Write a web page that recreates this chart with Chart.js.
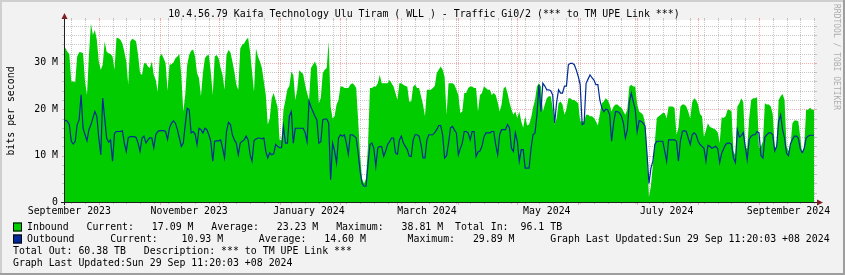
<!DOCTYPE html>
<html>
<head>
<meta charset="utf-8">
<script src="https://cdn.jsdelivr.net/npm/chart.js@4.4.1/dist/chart.umd.min.js"></script>
<style>
  html, body { margin: 0; padding: 0; background: #f2f2f2; }
  canvas { display: block; }
</style>
</head>
<body>
<canvas id="graph" width="845" height="275"></canvas>
<script>
'use strict';

// day numbers are counted from 1 Sep 2023; one sample per day, in Mbit/s
const firstDay = 12;
const viewStart = 12.3;
const viewEnd = 394.5;

const inbound = [
  33.9, 33.2, 32.4, 31.9, 26.0, 26.0, 25.8, 31.4, 32.3, 32.3,
  32.1, 26.0, 23.1, 31.7, 38.5, 36.0, 37.1, 35.0, 30.3, 28.5,
  29.6, 34.6, 32.4, 32.1, 31.9, 31.4, 28.5, 35.4, 35.3, 35.0,
  34.2, 32.4, 30.3, 25.3, 34.6, 35.2, 35.0, 34.6, 31.7, 27.8,
  27.4, 29.9, 29.9, 29.2, 28.9, 30.3, 27.4, 26.3, 23.8, 31.4,
  31.9, 31.0, 29.9, 24.0, 29.6, 29.7, 30.1, 31.0, 31.4, 31.9,
  27.4, 19.5, 23.1, 29.6, 31.7, 32.6, 32.9, 31.4, 27.8, 26.7,
  22.8, 27.8, 31.0, 31.6, 31.7, 28.1, 23.1, 31.4, 31.7, 31.0,
  28.9, 27.4, 24.2, 31.7, 32.8, 32.3, 30.3, 28.1, 25.3, 24.2,
  33.1, 33.9, 34.2, 35.0, 35.4, 32.4, 28.1, 23.8, 33.1, 31.4,
  30.3, 28.9, 26.0, 23.1, 16.7, 18.0, 22.4, 23.5, 22.0, 20.5,
  13.5, 13.2, 19.9, 22.0, 24.3, 25.0, 28.1, 27.4, 22.0, 24.2,
  28.4, 28.0, 27.6, 25.3, 23.5, 22.0, 28.9, 29.6, 30.3, 29.2,
  21.3, 22.5, 27.8, 28.5, 28.9, 34.6, 20.6, 18.0, 18.5, 21.0,
  22.0, 24.9, 24.9, 24.6, 24.6, 24.6, 25.3, 25.6, 25.3, 24.6,
  17.7, 10.0, 5.0, 4.0, 5.0, 12.0, 24.6, 24.6, 24.9, 24.9,
  25.6, 27.4, 25.6, 25.6, 25.6, 25.6, 26.3, 25.6, 24.9, 23.5,
  22.0, 25.6, 25.6, 25.3, 25.0, 24.9, 21.7, 21.7, 24.9, 25.3,
  24.6, 24.6, 22.8, 21.0, 18.5, 24.2, 24.2, 24.2, 24.6, 25.0,
  27.8, 28.5, 29.2, 28.5, 27.0, 18.8, 25.6, 25.6, 25.6, 25.3,
  24.2, 23.1, 19.2, 19.5, 23.5, 23.5, 24.6, 24.9, 24.9, 24.6,
  24.6, 19.5, 23.1, 23.5, 24.9, 24.6, 24.2, 24.2,
  23.1, 23.5, 23.1, 21.5, 19.5, 21.0, 24.5, 24.9, 23.5, 21.5,
  20.0, 18.8, 19.5, 18.1, 19.5, 17.4, 16.0, 18.5, 16.5, 16.7,
  18.1, 20.3, 22.0, 24.9, 25.6, 24.9, 19.5, 21.0, 22.4, 22.8,
  22.8, 20.3, 16.7, 18.0, 21.3, 21.7, 21.0, 18.8, 20.0, 22.4,
  22.4, 22.0, 22.0, 21.7, 21.3, 17.4, 17.4, 17.4, 18.8, 18.8,
  18.5, 18.5, 18.1, 17.4, 16.5, 19.0, 21.3, 21.7, 22.4, 22.0,
  21.0, 19.5, 20.6, 21.0, 21.0, 20.6, 20.3, 19.5, 18.8, 20.0,
  24.9, 25.3, 24.9, 24.9, 21.0, 19.5, 19.2, 18.8, 17.0, 11.0,
  1.0, 3.5, 8.1, 13.0, 18.1, 18.5, 18.8, 19.2, 19.2, 18.0,
  20.6, 20.6, 20.6, 20.3, 14.5, 16.0, 20.6, 21.0, 21.0, 20.6,
  19.5, 18.0, 21.5, 22.4, 22.0, 21.0, 19.0, 18.5, 14.0, 15.5,
  17.0, 16.2, 16.0, 15.8, 15.6, 15.0, 12.7, 18.3, 18.1, 18.5,
  19.9, 19.9, 19.5, 11.0, 10.0, 20.6, 21.3, 22.4, 21.5, 11.6,
  11.6, 18.0, 22.0, 22.4, 22.4, 22.6, 11.6, 12.0, 13.1, 21.3,
  21.0, 21.0, 20.6, 19.0, 11.6, 12.0, 22.0, 22.8, 23.3, 22.0,
  12.0, 11.0, 12.0, 17.0, 17.6, 17.6, 17.4, 14.0, 10.2, 12.0,
  19.9, 19.9, 20.3, 19.9, 19.9
];

const outbound = [
  17.7, 17.6, 17.4, 16.7, 13.1, 12.5, 13.1, 16.7, 17.7, 23.1,
  15.9, 14.5, 13.2, 15.6, 16.7, 18.1, 19.5, 18.5, 13.8, 10.2,
  22.4, 18.1, 13.8, 12.9, 13.4, 8.8, 14.8, 15.2, 15.2, 15.2,
  15.4, 12.7, 10.9, 13.9, 14.1, 14.1, 14.1, 13.9, 12.7, 10.9,
  13.8, 14.2, 12.7, 13.4, 13.9, 13.8, 11.7, 14.5, 15.2, 15.4,
  15.4, 15.4, 15.2, 13.5, 16.0, 17.0, 17.5, 17.0, 15.6, 13.8,
  12.0, 12.7, 16.7, 20.2, 19.9, 14.9, 15.2, 14.7, 12.4, 15.9,
  15.6, 14.9, 15.9, 15.6, 14.5, 13.1, 8.8, 13.1, 13.2, 13.2,
  13.4, 11.6, 9.5, 15.2, 17.2, 16.7, 14.5, 13.4, 12.7, 10.2,
  12.7, 13.1, 13.4, 14.2, 13.4, 10.2, 8.8, 13.2, 13.6, 13.8,
  13.8, 13.6, 13.8, 10.9, 9.5, 10.6, 10.2, 10.4, 12.4, 12.0,
  11.7, 11.7, 16.3, 12.7, 12.7, 18.5, 19.5, 12.7, 15.9, 15.9,
  15.9, 15.9, 15.9, 15.0, 13.0, 21.7, 20.5, 19.5, 18.5, 17.7,
  12.7, 13.0, 17.7, 17.9, 17.9, 17.0, 4.8, 12.7, 11.0, 8.4,
  13.8, 14.5, 14.2, 14.5, 12.7, 10.3, 14.5, 14.5, 14.2, 13.8,
  10.6, 6.6, 4.0, 3.4, 3.4, 8.0, 12.4, 12.7, 11.5, 7.7,
  11.7, 12.0, 11.9, 9.9, 11.0, 12.4, 13.0, 13.8, 13.8, 10.6,
  10.3, 13.4, 14.2, 12.7, 12.0, 11.3, 9.9, 9.8, 13.4, 14.5,
  14.5, 14.2, 12.4, 9.5, 9.5, 13.4, 14.5, 14.5, 14.5, 15.0,
  15.6, 16.5, 16.5, 14.5, 9.5, 10.0, 12.7, 16.0, 16.3, 15.5,
  14.9, 10.2, 11.5, 12.7, 15.2, 15.2, 14.9, 13.4, 15.2, 15.2,
  9.8, 10.8, 11.0, 12.0, 14.0, 14.9, 14.9, 14.9,
  15.2, 15.2, 12.4, 10.2, 14.5, 15.6, 15.6, 15.6, 16.7, 16.0,
  11.6, 10.9, 14.9, 13.1, 8.8, 11.3, 11.3, 7.3, 7.3, 7.3,
  11.6, 14.5, 14.9, 18.8, 25.3, 19.5, 25.6, 25.0, 24.2, 24.2,
  24.0, 23.1, 17.0, 21.5, 24.2, 23.5, 23.5, 25.0, 25.0, 29.6,
  29.9, 29.9, 29.6, 28.5, 27.1, 25.3, 16.7, 17.0, 25.6, 26.5,
  27.4, 26.8, 26.3, 25.3, 25.3, 22.0, 20.3, 19.5, 20.0, 19.9,
  18.8, 13.1, 17.0, 19.5, 19.5, 19.2, 18.5, 17.0, 13.8, 15.6,
  21.5, 23.5, 21.7, 20.0, 15.2, 17.5, 17.4, 17.0, 16.4, 10.5,
  4.0, 7.3, 8.8, 12.4, 13.1, 13.1, 13.1, 13.1, 11.0, 8.8,
  13.4, 13.4, 13.4, 13.4, 13.1, 8.8, 13.1, 15.2, 15.4, 15.2,
  13.8, 12.4, 14.5, 14.9, 14.5, 13.1, 12.4, 12.0, 11.6, 8.8,
  12.2, 12.0, 11.6, 11.8, 12.0, 11.5, 8.5, 10.5, 11.5, 12.4,
  12.7, 12.7, 12.5, 9.5, 8.5, 15.6, 14.0, 14.3, 15.0, 12.0,
  9.1, 13.5, 14.2, 14.5, 14.5, 15.2, 14.9, 10.0, 9.5, 14.0,
  14.5, 14.9, 14.9, 14.5, 11.0, 12.0, 17.4, 18.8, 15.6, 13.8,
  10.5, 10.0, 12.5, 13.5, 14.2, 14.2, 13.8, 11.5, 10.6, 11.6,
  13.8, 14.2, 14.4, 14.4, 14.4
];

// first day of each month (major grid) and the month labels, centred mid-month
const monthStarts = [30, 61, 91, 122, 153, 182, 213, 243, 274, 304, 335, 366];
const firstSunday = 16;
const labelDays = [15, 76, 137, 197, 258, 319, 381];
const labelTexts = ['September 2023', 'November 2023', 'January 2024', 'March 2024',
  'May 2024', 'July 2024', 'September 2024'];

const yTicks = [0, 10, 20, 30];
const yTickLabels = ['0', '10 M', '20 M', '30 M'];
const yTop = 39.25;

const title = '10.4.56.79 Kaifa Technology Ulu Tiram ( WLL ) - Traffic Gi0/2 (*** to TM UPE Link ***)';
const legendRows = [
  { box: '#00CC00', parts: [[0, 'Inbound'], [10, 'Current:'], [21, '17.09 M'], [31, 'Average:'],
    [42, '23.23 M'], [52, 'Maximum:'], [63, '38.81 M'], [72, 'Total In:'], [83, '96.1 TB']] },
  { box: '#002A97', parts: [[0, 'Outbound'], [14, 'Current:'], [26, '10.93 M'], [39, 'Average:'],
    [50, '14.60 M'], [64, 'Maximum:'], [75, '29.89 M'], [88, 'Graph Last Updated:Sun 29 Sep 11:20:03 +08 2024']] },
  { parts: [[0, 'Total Out: 60.38 TB'], [22, 'Description: *** to TM UPE Link ***']] },
  { parts: [[0, 'Graph Last Updated:Sun 29 Sep 11:20:03 +08 2024']] }
];

const MONO = '"DejaVu Sans Mono", "Liberation Mono", monospace';
const GRID = 'rgba(143,143,143,0.5)';
const MGRID = 'rgba(222,79,79,0.45)';

const half = v => Math.round(v) + 0.5;

const rrdLook = {
  id: 'rrdLook',
  beforeDraw(chart) {
    const { ctx, width, height, chartArea: a } = chart;
    ctx.save();
    ctx.fillStyle = '#f2f2f2';
    ctx.fillRect(0, 0, width, height);
    ctx.fillStyle = '#cfcfcf';
    ctx.fillRect(0, 0, width, 2);
    ctx.fillRect(0, 0, 2, height);
    ctx.fillStyle = '#9e9e9e';
    ctx.fillRect(0, height - 2, width, 2);
    ctx.fillRect(width - 2, 0, 2, height);
    ctx.fillStyle = '#ffffff';
    ctx.fillRect(a.left, a.top, a.right - a.left, a.bottom - a.top);
    ctx.restore();
  },
  beforeDatasetsDraw(chart) {
    const { ctx, chartArea: a, scales: { x, y } } = chart;
    ctx.save();
    ctx.lineWidth = 1;

    // minor grid: weeks and every 2 M
    ctx.strokeStyle = GRID;
    ctx.setLineDash([1, 1]);
    ctx.beginPath();
    for (let d = firstSunday; d < viewEnd; d += 7) {
      if (monthStarts.includes(d)) continue;
      const X = half(x.getPixelForValue(d));
      ctx.moveTo(X, a.top); ctx.lineTo(X, a.bottom);
    }
    for (let v = 2; v < yTop; v += 2) {
      if (v % 10 === 0) continue;
      const Y = half(y.getPixelForValue(v));
      ctx.moveTo(a.left, Y); ctx.lineTo(a.right, Y);
    }
    ctx.stroke();
    ctx.setLineDash([]);
    ctx.beginPath();
    for (let d = firstSunday; d < viewEnd; d += 7) {
      if (monthStarts.includes(d)) continue;
      const X = half(x.getPixelForValue(d));
      ctx.moveTo(X, a.top - 2); ctx.lineTo(X, a.top);
      ctx.moveTo(X, a.bottom); ctx.lineTo(X, a.bottom + 2);
    }
    for (let v = 2; v < yTop; v += 2) {
      if (v % 10 === 0) continue;
      const Y = half(y.getPixelForValue(v));
      ctx.moveTo(a.left - 2, Y); ctx.lineTo(a.left, Y);
      ctx.moveTo(a.right, Y); ctx.lineTo(a.right + 2, Y);
    }
    ctx.stroke();

    // major grid: months and every 10 M
    ctx.strokeStyle = MGRID;
    ctx.setLineDash([1, 1]);
    ctx.beginPath();
    monthStarts.forEach(d => {
      const X = half(x.getPixelForValue(d));
      ctx.moveTo(X, a.top); ctx.lineTo(X, a.bottom);
    });
    [10, 20, 30].forEach(v => {
      const Y = half(y.getPixelForValue(v));
      ctx.moveTo(a.left, Y); ctx.lineTo(a.right, Y);
    });
    ctx.stroke();
    ctx.setLineDash([]);
    ctx.beginPath();
    monthStarts.forEach(d => {
      const X = half(x.getPixelForValue(d));
      ctx.moveTo(X, a.top - 2); ctx.lineTo(X, a.top);
      ctx.moveTo(X, a.bottom); ctx.lineTo(X, a.bottom + 3);
    });
    [10, 20, 30].forEach(v => {
      const Y = half(y.getPixelForValue(v));
      ctx.moveTo(a.left - 2, Y); ctx.lineTo(a.left, Y);
      ctx.moveTo(a.right, Y); ctx.lineTo(a.right + 2, Y);
    });
    ctx.stroke();
    ctx.restore();
  },
  afterDraw(chart) {
    const { ctx, width, chartArea: a, scales: { x, y } } = chart;
    ctx.save();

    // axes with arrows
    const ax = half(a.left);
    const ay = half(a.bottom);
    ctx.strokeStyle = '#1f1f1f';
    ctx.lineWidth = 1;
    ctx.beginPath();
    ctx.moveTo(ax, a.top - 1); ctx.lineTo(ax, a.bottom + 3);
    ctx.moveTo(a.left - 3, ay); ctx.lineTo(a.right + 4, ay);
    ctx.stroke();
    ctx.fillStyle = '#801f1f';
    ctx.beginPath();
    ctx.moveTo(ax, a.top - 7); ctx.lineTo(ax - 3, a.top - 1); ctx.lineTo(ax + 3, a.top - 1);
    ctx.closePath(); ctx.fill();
    ctx.beginPath();
    ctx.moveTo(a.right + 8, ay); ctx.lineTo(a.right + 2, ay - 3); ctx.lineTo(a.right + 2, ay + 3);
    ctx.closePath(); ctx.fill();

    ctx.fillStyle = '#000';
    ctx.font = '9.9px ' + MONO;
    ctx.textBaseline = 'middle';

    // title
    ctx.textAlign = 'center';
    ctx.fillText(title, 424, 14.5);

    // y tick labels
    ctx.textAlign = 'right';
    yTicks.forEach((v, i) => ctx.fillText(yTickLabels[i], a.left - 6, y.getPixelForValue(v)));

    // x labels
    ctx.textAlign = 'center';
    labelDays.forEach((d, i) => ctx.fillText(labelTexts[i], x.getPixelForValue(d), 211.5));

    // y axis title
    ctx.save();
    ctx.translate(11, (a.top + a.bottom) / 2);
    ctx.rotate(-Math.PI / 2);
    ctx.fillText('bits per second', 0, 0);
    ctx.restore();

    // legend
    ctx.textAlign = 'left';
    const cw = ctx.measureText('0').width;
    legendRows.forEach((row, i) => {
      const cy = 227 + i * 12;
      let x0 = 13;
      if (row.box) {
        ctx.fillStyle = row.box;
        ctx.fillRect(13, cy - 4.5, 9, 9);
        ctx.strokeStyle = '#000';
        ctx.strokeRect(13.5, cy - 4, 8, 8);
        x0 = 27;
      }
      ctx.fillStyle = '#000';
      row.parts.forEach(([col, text]) => ctx.fillText(text, x0 + col * cw, cy));
    });

    // watermark
    ctx.save();
    ctx.translate(width - 9, 4);
    ctx.rotate(Math.PI / 2);
    ctx.font = '8px ' + MONO;
    ctx.fillStyle = 'rgba(0,0,0,0.3)';
    ctx.textAlign = 'left';
    ctx.fillText('RRDTOOL / TOBI OETIKER', 0, 0);
    ctx.restore();

    ctx.restore();
  }
};

new Chart(document.getElementById('graph'), {
  type: 'line',
  data: {
    datasets: [
      {
        label: 'Inbound',
        data: inbound.map((v, i) => ({ x: firstDay + i, y: v })),
        backgroundColor: '#00CC00',
        borderColor: 'rgba(0,0,0,0)',
        borderWidth: 0,
        fill: 'origin',
        pointRadius: 0,
        tension: 0,
        order: 2
      },
      {
        label: 'Outbound',
        data: outbound.map((v, i) => ({ x: firstDay + i, y: v })),
        borderColor: '#002A97',
        borderWidth: 1.2,
        fill: false,
        pointRadius: 0,
        tension: 0,
        order: 1
      }
    ]
  },
  options: {
    responsive: false,
    devicePixelRatio: 1,
    animation: false,
    events: [],
    layout: { padding: { left: 64, right: 30, top: 20, bottom: 73 } },
    plugins: { legend: { display: false }, tooltip: { enabled: false } },
    scales: {
      x: { type: 'linear', min: viewStart, max: viewEnd, display: false },
      y: { min: 0, max: yTop, display: false }
    }
  },
  plugins: [rrdLook]
});
</script>
</body>
</html>
